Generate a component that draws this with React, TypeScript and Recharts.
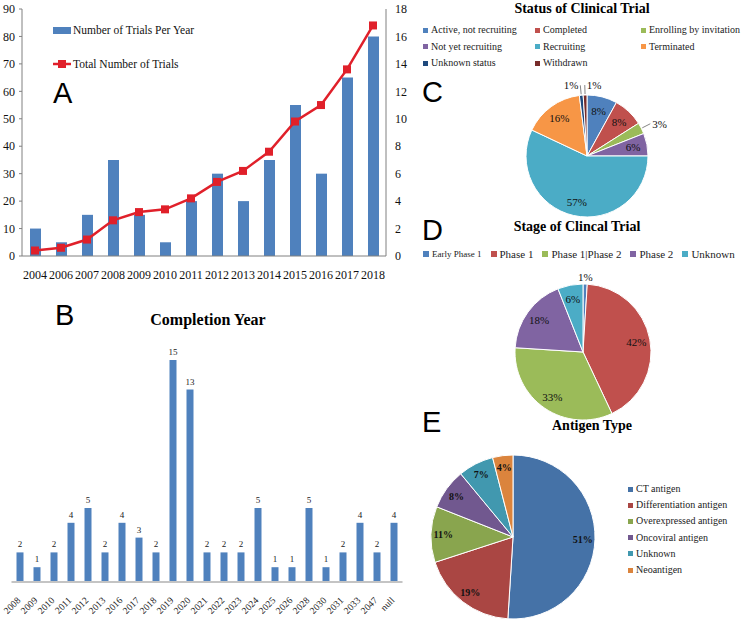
import {
  Bar,
  BarChart,
  Cell,
  ComposedChart,
  LabelList,
  Line,
  Pie,
  PieChart,
  XAxis,
  YAxis,
} from "recharts";

const SERIF = '"Liberation Serif", "Times New Roman", serif';
const SANS = '"Liberation Sans", Arial, sans-serif';

// A: trials per year + running total
const trialYears = ["2004", "2006", "2007", "2008", "2009", "2010", "2011", "2012", "2013", "2014", "2015", "2016", "2017", "2018"];
const trialsPerYear = [2, 1, 3, 7, 3, 1, 4, 6, 4, 7, 11, 6, 13, 16];
const totalTrials = [2, 3, 6, 13, 16, 17, 21, 27, 31, 38, 49, 55, 68, 84];
const leftTicks = [0, 10, 20, 30, 40, 50, 60, 70, 80, 90];
const rightTicks = [0, 2, 4, 6, 8, 10, 12, 14, 16, 18];
const seriesNames = ["Number of Trials Per Year", "Total Number of Trials"];

// B: completion year
const completionYears = ["2008", "2009", "2010", "2011", "2012", "2013", "2016", "2017", "2018", "2019", "2020", "2021", "2022", "2023", "2024", "2025", "2026", "2028", "2030", "2031", "2033", "2047", "null"];
const completionCounts = [2, 1, 2, 4, 5, 2, 4, 3, 2, 15, 13, 2, 2, 2, 5, 1, 1, 5, 1, 2, 4, 2, 4];

// C: status
const statusNames = ["Active, not recruiting", "Completed", "Enrolling by invitation", "Not yet recruiting", "Recruiting", "Terminated", "Unknown status", "Withdrawn"];
const statusShares = [8, 8, 3, 6, 57, 16, 1, 1];
const statusColors = ["#4f81bd", "#c0504d", "#9bbb59", "#8064a2", "#4bacc6", "#f79646", "#1f497d", "#772c2a"];

// D: stage
const stageNames = ["Early Phase 1", "Phase 1", "Phase 1|Phase 2", "Phase 2", "Unknown"];
const stageShares = [1, 42, 33, 18, 6];
const stageColors = ["#4f81bd", "#c0504d", "#9bbb59", "#8064a2", "#4bacc6"];

// E: antigen type
const antigenNames = ["CT antigen", "Differentiation antigen", "Overexpressed antigen", "Oncoviral antigen", "Unknown", "Neoantigen"];
const antigenShares = [51, 19, 11, 8, 7, 4];
const antigenColors = ["#4572a7", "#aa4643", "#89a54e", "#71588f", "#4198af", "#db843d"];

const trialData = trialYears.map((year, i) => ({ year, perYear: trialsPerYear[i], total: totalTrials[i] }));
const completionData = completionYears.map((year, i) => ({ year, count: completionCounts[i] }));
const toSlices = (names: string[], shares: number[]) => names.map((name, i) => ({ name, value: shares[i] }));

const RAD = Math.PI / 180;

const SquareDot = (props: any) => {
  const { cx, cy, index } = props;
  return <rect key={index} x={cx - 4} y={cy - 4} width={8} height={8} fill="#e0202a" />;
};

const RotTick = (props: any) => {
  const { x, y, payload } = props;
  const ax = x + 1;
  const ay = y + 11;
  return (
    <text x={ax} y={ay} transform={`rotate(-45 ${ax} ${ay})`} textAnchor="end" fontSize={9.5} fontFamily={SERIF} fill="#222">
      {payload.value}
    </text>
  );
};

const TopLabel = (props: any) => {
  const { x, y, width, value, index } = props;
  return (
    <text key={index} x={x + width / 2} y={y - 5} textAnchor="middle" fontFamily={SERIF} fontSize={9} fill="#222">
      {value}
    </text>
  );
};

// label renderer for pies: inside labels at a fraction of radius, small slices outside
const pieLabel = (opts: { frac: number; bold?: boolean; size: number; small: number; leader: boolean }) => (props: any) => {
  const cx = Number(props.cx);
  const cy = Number(props.cy);
  const r = Number(props.outerRadius);
  const a = -props.midAngle * RAD;
  const cos = Math.cos(a);
  const sin = Math.sin(a);
  const text = `${props.value}%`;
  const common = { fontFamily: SERIF, fontSize: opts.size, fontWeight: opts.bold ? 700 : 400, fill: "#111" };
  if (props.value < opts.small) {
    if (!opts.leader) {
      return (
        <text key={props.index} x={cx + (r + 7) * cos} y={cy + (r + 7) * sin} textAnchor="middle" dominantBaseline="central" {...common}>
          {text}
        </text>
      );
    }
    const x1 = cx + (r + 1) * cos;
    const y1 = cy + (r + 1) * sin;
    const x2 = cx + (r + 10) * cos;
    const y2 = cy + (r + 10) * sin;
    const right = cos > -0.05;
    return (
      <g key={props.index}>
        <path d={`M${x1},${y1}L${x2},${y2}`} stroke="#666" strokeWidth={0.8} fill="none" />
        <text x={x2 + (right ? 2 : -2)} y={y2} textAnchor={right ? "start" : "end"} dominantBaseline="central" {...common}>
          {text}
        </text>
      </g>
    );
  }
  return (
    <text key={props.index} x={cx + r * opts.frac * cos} y={cy + r * opts.frac * sin} textAnchor="middle" dominantBaseline="central" {...common}>
      {text}
    </text>
  );
};

const Swatch = ({ color, size = 5 }: { color: string; size?: number }) => (
  <span style={{ display: "inline-block", width: size, height: size, background: color, marginRight: 3, flex: "none" }} />
);

const App = () => {
  return (
    <div style={{ position: "absolute", left: 0, top: 0, width: 746, height: 621, background: "#fff", overflow: "hidden" }}>
      {/* A */}
      <div style={{ position: "absolute", left: 0, top: 0 }}>
        <ComposedChart width={420} height={285} data={trialData} margin={{ top: 9, right: 0, bottom: 9, left: 0 }}>
          <XAxis
            dataKey="year"
            height={20}
            interval={0}
            tickLine={false}
            tickSize={6}
            tickMargin={8}
            axisLine={{ stroke: "#808080" }}
            tick={{ fontFamily: SERIF, fontSize: 12, fill: "#111" }}
          />
          <YAxis
            yAxisId="left"
            width={22}
            domain={[0, 90]}
            ticks={leftTicks}
            allowDataOverflow
            tickSize={3}
            tickMargin={4}
            axisLine={{ stroke: "#808080" }}
            tickLine={{ stroke: "#808080" }}
            tick={{ fontFamily: SERIF, fontSize: 12, fill: "#111" }}
          />
          <YAxis
            yAxisId="right"
            orientation="right"
            width={34}
            domain={[0, 18]}
            ticks={rightTicks}
            allowDataOverflow
            tickSize={4}
            tickMargin={5}
            tickLine={false}
            axisLine={{ stroke: "#808080" }}
            tick={{ fontFamily: SERIF, fontSize: 12, fill: "#111" }}
          />
          <Bar yAxisId="right" dataKey="perYear" name={seriesNames[0]} fill="#4f81bd" barSize={11} isAnimationActive={false} />
          <Line
            yAxisId="left"
            type="linear"
            dataKey="total"
            name={seriesNames[1]}
            stroke="#e0202a"
            strokeWidth={2.5}
            dot={SquareDot}
            activeDot={false}
            isAnimationActive={false}
          />
        </ComposedChart>
      </div>

      {/* B */}
      <div style={{ position: "absolute", left: 0, top: 340 }}>
        <BarChart width={410} height={281} data={completionData} margin={{ top: 20, right: 7.5, bottom: 0, left: 11.5 }}>
          <XAxis dataKey="year" height={39} interval={0} tickLine={false} tick={<RotTick />} axisLine={{ stroke: "#c4c4c4", strokeWidth: 2 }} />
          <YAxis hide domain={[0, 15]} allowDataOverflow />
          <Bar dataKey="count" fill="#4f81bd" barSize={7} isAnimationActive={false}>
            <LabelList dataKey="count" content={TopLabel} />
          </Bar>
        </BarChart>
      </div>

      {/* C */}
      <div style={{ position: "absolute", left: 480, top: 60 }}>
        <PieChart width={200} height={170}>
          <Pie
            data={toSlices(statusNames, statusShares)}
            dataKey="value"
            cx={102}
            cy={91}
            outerRadius={61}
            startAngle={90}
            endAngle={-270}
            stroke="#fff"
            strokeWidth={1}
            labelLine={false}
            label={pieLabel({ frac: 0.77, size: 11, small: 5, leader: true })}
            isAnimationActive={false}
          >
            {statusColors.map((c, i) => (
              <Cell key={i} fill={c} />
            ))}
          </Pie>
        </PieChart>
      </div>

      {/* D */}
      <div style={{ position: "absolute", left: 480, top: 265 }}>
        <PieChart width={200} height={160}>
          <Pie
            data={toSlices(stageNames, stageShares)}
            dataKey="value"
            cx={98}
            cy={82}
            outerRadius={68}
            startAngle={90}
            endAngle={-270}
            stroke="#fff"
            strokeWidth={1}
            labelLine={false}
            label={pieLabel({ frac: 0.8, size: 11, small: 2, leader: false })}
            isAnimationActive={false}
          >
            {stageColors.map((c, i) => (
              <Cell key={i} fill={c} />
            ))}
          </Pie>
        </PieChart>
      </div>

      {/* E */}
      <div style={{ position: "absolute", left: 410, top: 440 }}>
        <PieChart width={200} height={181}>
          <Pie
            data={toSlices(antigenNames, antigenShares)}
            dataKey="value"
            cx={98}
            cy={92}
            outerRadius={82}
            startAngle={90}
            endAngle={-270}
            stroke="#fff"
            strokeWidth={1}
            labelLine={false}
            label={pieLabel({ frac: 0.85, size: 10, bold: true, small: 0, leader: false })}
            isAnimationActive={false}
          >
            {antigenColors.map((c, i) => (
              <Cell key={i} fill={c} />
            ))}
          </Pie>
        </PieChart>
      </div>

      {/* titles, panel letters */}
      <svg width={746} height={621} style={{ position: "absolute", left: 0, top: 0, pointerEvents: "none" }}>
        <text x={53} y={103} fontFamily={SANS} fontSize={29} fill="#000">A</text>
        <text x={55} y={325} fontFamily={SANS} fontSize={29} fill="#000">B</text>
        <text x={422} y={102} fontFamily={SANS} fontSize={29} fill="#000">C</text>
        <text x={422} y={240} fontFamily={SANS} fontSize={29} fill="#000">D</text>
        <text x={422} y={432} fontFamily={SANS} fontSize={29} fill="#000">E</text>
        <text x={208} y={325} textAnchor="middle" fontFamily={SERIF} fontWeight={700} fontSize={16} fill="#000">Completion Year</text>
        <text x={582} y={13} textAnchor="middle" fontFamily={SERIF} fontWeight={700} fontSize={14} fill="#000">Status of Clinical Trial</text>
        <text x={577} y={231} textAnchor="middle" fontFamily={SERIF} fontWeight={700} fontSize={14} fill="#000">Stage of Clincal Trial</text>
        <text x={592} y={430} textAnchor="middle" fontFamily={SERIF} fontWeight={700} fontSize={14} fill="#000">Antigen Type</text>

        {/* A legend */}
        <rect x={53} y={27} width={18} height={7} fill="#4f81bd" />
        <text x={73} y={30} dominantBaseline="central" fontFamily={SERIF} fontSize={11.5} fill="#111">{seriesNames[0]}</text>
        <line x1={53} y1={64} x2={71} y2={64} stroke="#e0202a" strokeWidth={2.5} />
        <rect x={58} y={60} width={8} height={8} fill="#e0202a" />
        <text x={73} y={64} dominantBaseline="central" fontFamily={SERIF} fontSize={11.5} fill="#111">{seriesNames[1]}</text>
      </svg>

      {/* C legend */}
      <div
        style={{
          position: "absolute",
          left: 423,
          top: 22,
          display: "grid",
          gridTemplateColumns: "112px 106px auto",
          rowGap: 0,
          fontFamily: SERIF,
          fontSize: 10,
          lineHeight: "16.5px",
          color: "#222",
        }}
      >
        {statusNames.map((n, i) => (
          <div key={n} style={{ display: "flex", alignItems: "center", whiteSpace: "nowrap" }}>
            <Swatch color={statusColors[i]} />
            {n}
          </div>
        ))}
      </div>

      {/* D legend */}
      <div style={{ position: "absolute", left: 423, top: 246, display: "flex", gap: 9, fontFamily: SERIF, fontSize: 11, lineHeight: "16px", color: "#222" }}>
        {stageNames.map((n, i) => (
          <div key={n} style={{ display: "flex", alignItems: "center", whiteSpace: "nowrap", fontSize: i === 0 ? 9 : 11 }}>
            <Swatch color={stageColors[i]} size={6} />
            {n}
          </div>
        ))}
      </div>

      {/* E legend */}
      <div style={{ position: "absolute", left: 628, top: 481, fontFamily: SERIF, fontSize: 10, lineHeight: "16.2px", color: "#222" }}>
        {antigenNames.map((n, i) => (
          <div key={n} style={{ display: "flex", alignItems: "center", whiteSpace: "nowrap" }}>
            <Swatch color={antigenColors[i]} />
            {n}
          </div>
        ))}
      </div>
    </div>
  );
};

export default App;
